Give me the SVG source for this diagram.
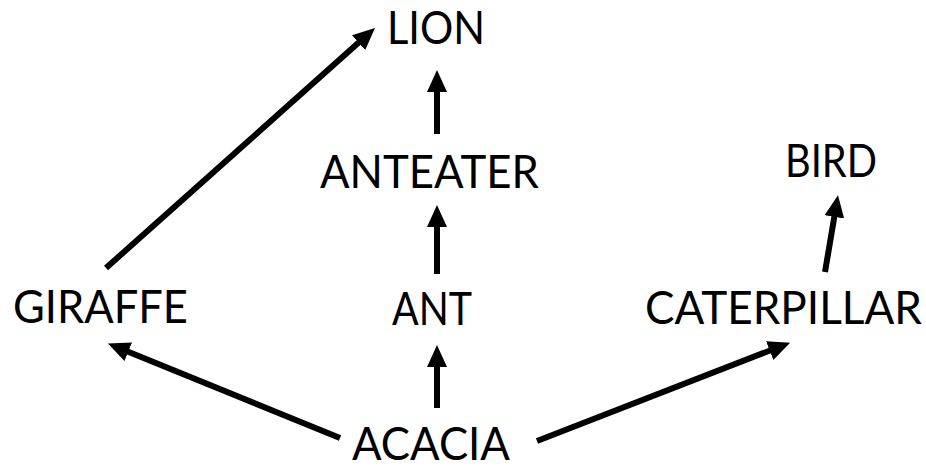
<svg xmlns="http://www.w3.org/2000/svg" width="926" height="466" viewBox="0 0 926 466">
  <style>
    .lbl { font-family: "Lato", "Liberation Sans", sans-serif; font-size: 46px; fill: #000; }
    .edge { stroke: #000; stroke-width: 6; fill: none; marker-end: url(#ah); }
  </style>
  <defs>
    <marker id="ah" markerUnits="userSpaceOnUse" markerWidth="22" markerHeight="20" refX="10" refY="10" orient="auto" viewBox="0 0 22 20">
      <path d="M0,0 L22,10 L0,20 z" fill="#000"/>
    </marker>
  </defs>
  <rect width="926" height="466" fill="#fff"/>
  <g id="connectors">
    <line class="edge" x1="106" y1="268" x2="366" y2="36"/>
    <line class="edge" x1="437" y1="134" x2="437" y2="82"/>
    <line class="edge" x1="437" y1="274" x2="437" y2="217"/>
    <line class="edge" x1="437" y1="408" x2="437" y2="357"/>
    <line class="edge" x1="340" y1="438" x2="119" y2="348"/>
    <line class="edge" x1="537" y1="441" x2="779" y2="347"/>
    <line class="edge" x1="825" y1="272" x2="836" y2="207"/>
  </g>
  <g id="lion"><text class="lbl" x="387" y="44" textLength="98" lengthAdjust="spacingAndGlyphs">LION</text></g>
  <g id="anteater"><text class="lbl" x="320" y="188" textLength="219" lengthAdjust="spacingAndGlyphs">ANTEATER</text></g>
  <g id="ant"><text class="lbl" x="392" y="325" textLength="80" lengthAdjust="spacingAndGlyphs">ANT</text></g>
  <g id="giraffe"><text class="lbl" x="13" y="323" textLength="175" lengthAdjust="spacingAndGlyphs">GIRAFFE</text></g>
  <g id="caterpillar"><text class="lbl" x="645" y="324" textLength="277" lengthAdjust="spacingAndGlyphs">CATERPILLAR</text></g>
  <g id="bird"><text class="lbl" x="785" y="177" textLength="92" lengthAdjust="spacingAndGlyphs">BIRD</text></g>
  <g id="acacia"><text class="lbl" x="352" y="460" textLength="158" lengthAdjust="spacingAndGlyphs">ACACIA</text></g>
</svg>
